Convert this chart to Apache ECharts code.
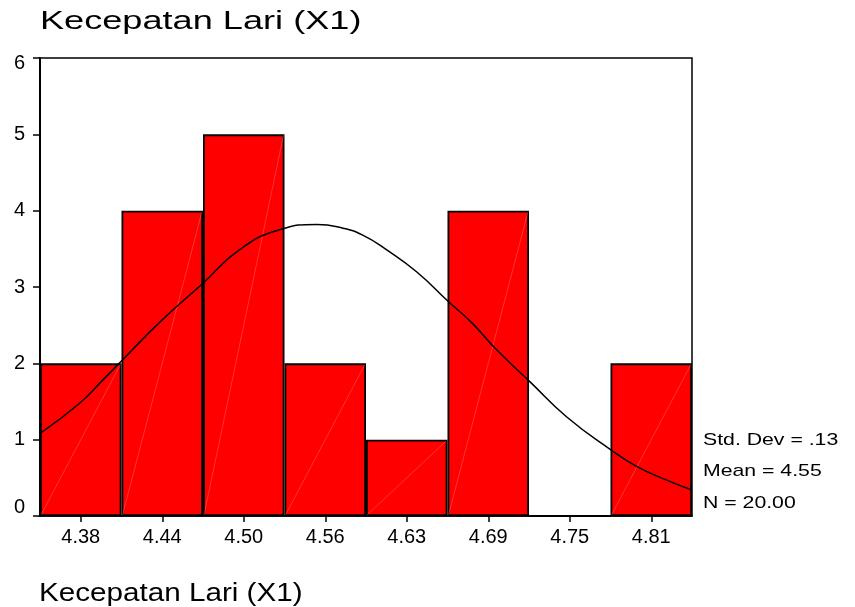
<!DOCTYPE html>
<html><head><meta charset="utf-8">
<script src="https://cdn.jsdelivr.net/npm/echarts@6/dist/echarts.min.js"></script>
<style>html,body{margin:0;padding:0;background:#fff}#c{width:855px;height:607px}</style>
</head><body><div id="c"></div>
<script>
const titleText = 'Kecepatan Lari (X1)';
const xAxisName = 'Kecepatan Lari (X1)';
const binLabels = ['4.38','4.44','4.50','4.56','4.63','4.69','4.75','4.81'];
const counts = [2, 4, 5, 2, 1, 4, 0, 2];
const yTicks = [0, 1, 2, 3, 4, 5, 6];
// normal curve: [bin position (0..8), frequency]
const curvePos = [0.01,0.49,0.77,0.99,1.47,2.00,2.45,2.94,3.40,3.72,3.96,4.25,4.62,5.01,5.30,5.60,6.01,6.46,7.00,7.32,7.69,8.00];
const curveVal = [1.09,1.48,1.78,2.02,2.54,3.05,3.49,3.75,3.82,3.77,3.68,3.49,3.20,2.81,2.53,2.18,1.76,1.30,0.87,0.65,0.47,0.34];
const stats = ['Std. Dev = .13', 'Mean = 4.55', 'N = 20.00'];

const font = '"Liberation Sans", Arial, sans-serif';
const chart = echarts.init(document.getElementById('c'), null, {renderer: 'canvas'});
const L = 40, R = 692, T = 58, B = 516;
chart.setOption({
  animation: false,
  backgroundColor: '#fff',
  grid: {left: L, right: 855 - R, top: T, bottom: 607 - B, show: true,
    borderColor: '#000', borderWidth: 1.5, backgroundColor: 'transparent'},
  xAxis: [{
    type: 'category', data: binLabels, boundaryGap: true,
    axisLine: {show: true, lineStyle: {color: '#000', width: 1.5}},
    axisTick: {show: true, alignWithLabel: true, length: 6, lineStyle: {color: '#000', width: 1.5}},
    axisLabel: {fontFamily: font, fontSize: 20, color: '#000', margin: 11},
    splitLine: {show: false}
  }, {
    type: 'value', min: 0, max: 8, show: false
  }],
  yAxis: {
    type: 'value', min: yTicks[0], max: yTicks[yTicks.length - 1], interval: 1,
    axisLine: {show: true, lineStyle: {color: '#000', width: 2}},
    axisTick: {show: true, length: 7, lineStyle: {color: '#000', width: 1.5}},
    axisLabel: {fontFamily: font, fontSize: 20, color: '#000', margin: 15,
      formatter: v => v === yTicks[0] ? '{lo|' + v + '}' : (v === yTicks[yTicks.length - 1] ? '{hi|' + v + '}' : String(v)),
      rich: {
        lo: {fontFamily: font, fontSize: 20, color: '#000', padding: [0, 0, 18, 0]},
        hi: {fontFamily: font, fontSize: 20, color: '#000', padding: [10, 0, 0, 0]}
      }},
    splitLine: {show: false}
  },
  series: [{
    type: 'bar', data: counts, xAxisIndex: 0, barWidth: '100%', barGap: '0%',
    itemStyle: {color: '#ff0000', borderColor: '#000', borderWidth: 1.8}
  }, {
    type: 'custom', xAxisIndex: 1, silent: true, z: 3,
    data: counts.map((c, i) => [i, c]),
    renderItem: (params, api) => {
      const i = api.value(0), c = api.value(1);
      if (!c) return null;
      const p0 = api.coord([i, 0]), p1 = api.coord([i + 1, c]);
      return {type: 'line', shape: {x1: p0[0] + 1, y1: p0[1] - 1, x2: p1[0] - 1, y2: p1[1] + 1},
        style: {stroke: 'rgba(255,190,190,0.45)', lineWidth: 0.6}};
    }
  }, {
    type: 'line', xAxisIndex: 1, smooth: true, symbol: 'none', z: 4,
    data: curvePos.map((p, i) => [p, curveVal[i]]),
    lineStyle: {color: '#000', width: 1.5}
  }],
  graphic: [
    {type: 'text', left: 40, top: 9, scaleX: 1.39, originX: 0,
      style: {text: titleText, font: '26px ' + font, fill: '#000'}},
    {type: 'text', left: 703, top: 432, scaleX: 1.25,
      style: {text: stats[0], font: '17px ' + font, fill: '#000'}},
    {type: 'text', left: 703, top: 463, scaleX: 1.25,
      style: {text: stats[1], font: '17px ' + font, fill: '#000'}},
    {type: 'text', left: 703, top: 495, scaleX: 1.25,
      style: {text: stats[2], font: '17px ' + font, fill: '#000'}},
    {type: 'text', left: 39, top: 581, scaleX: 1.14,
      style: {text: xAxisName, font: '26px ' + font, fill: '#000'}}
  ]
});
</script></body></html>
